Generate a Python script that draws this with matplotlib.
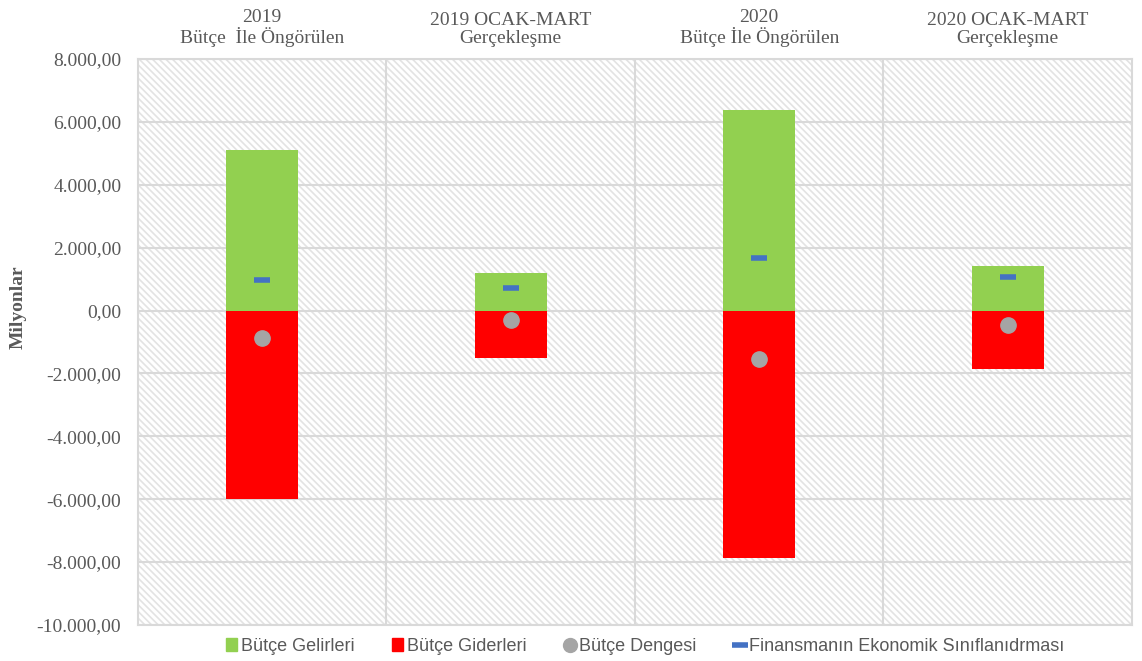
import matplotlib
matplotlib.use("Agg")
import matplotlib.pyplot as plt
from matplotlib.patches import Rectangle
from matplotlib.ticker import FuncFormatter, MultipleLocator
from matplotlib.lines import Line2D
from matplotlib.patches import Patch

# data (Milyonlar)
categories = ["2019\nBütçe  İle Öngörülen", "2019 OCAK-MART\nGerçekleşme",
              "2020\nBütçe İle Öngörülen", "2020 OCAK-MART\nGerçekleşme"]
gelirler = [5100, 1180, 6380, 1420]
giderler = [-6000, -1500, -7880, -1860]
denge = [-880, -310, -1530, -460]
finansman = [960, 720, 1660, 1080]

grid_c = "#d9d9d9"
txt_c = "#595959"
serif = ["Liberation Serif", "DejaVu Serif"]

plt.rcParams["hatch.linewidth"] = 1.2
fig = plt.figure(figsize=(11.42, 6.61), dpi=100)
ax = fig.add_axes([0.1208, 0.0545, 0.8704, 0.8562])

# hatched background
ax.add_patch(Rectangle((0, 0), 1, 1, transform=ax.transAxes, facecolor="white",
                       edgecolor="#e3e3e3", hatch="\\\\\\\\\\", linewidth=0, zorder=0))

x = list(range(len(categories)))
ax.bar(x, gelirler, width=0.29, color="#92D050", zorder=3)
ax.bar(x, giderler, width=0.29, color="#FF0000", zorder=3)
ax.plot(x, denge, linestyle="none", marker="o", ms=11, color="#A5A5A5", zorder=4)
ax.plot(x, finansman, linestyle="none", marker="_", ms=12, mew=4, color="#4472C4", zorder=4)

ax.set_xlim(-0.5, 3.5)
ax.set_ylim(-10000, 8000)
ax.yaxis.set_major_locator(MultipleLocator(2000))

def tr_fmt(v, pos):
    s = f"{abs(v):,.2f}".replace(",", "X").replace(".", ",").replace("X", ".")
    return ("-" if v < 0 else "") + s

ax.yaxis.set_major_formatter(FuncFormatter(tr_fmt))
ax.yaxis.grid(True, color=grid_c, linewidth=1.5, zorder=1)
for xv in [0.5, 1.5, 2.5]:
    ax.axvline(xv, color=grid_c, linewidth=1.5, zorder=1)
ax.set_axisbelow(True)

for sp in ax.spines.values():
    sp.set_color(grid_c)
    sp.set_linewidth(1.5)

ax.xaxis.tick_top()
ax.set_xticks(x)
ax.set_xticklabels(categories, fontfamily=serif, fontsize=14, color=txt_c,
                   linespacing=1.05)
ax.tick_params(axis="x", length=0, pad=9)
ax.tick_params(axis="y", length=0, pad=12, labelsize=14, labelcolor=txt_c)
for lab in ax.get_yticklabels():
    lab.set_fontfamily(serif)

fig.text(0.016, 0.535, "Milyonlar", rotation=90, ha="center", va="center",
         fontfamily=serif, fontsize=14, fontweight="bold", color=txt_c)

handles = [
    Patch(color="#92D050", label="Bütçe Gelirleri"),
    Patch(color="#FF0000", label="Bütçe Giderleri"),
    Line2D([], [], linestyle="none", marker="o", ms=10, color="#A5A5A5", label="Bütçe Dengesi"),
    Line2D([], [], linestyle="none", marker="_", ms=11, mew=4, color="#4472C4",
           label="Finansmanın Ekonomik Sınıflanıdrması"),
]
fig.legend(handles=handles, loc="center", bbox_to_anchor=(0.565, 0.022), ncol=4,
           frameon=False, handlelength=0.6, handleheight=0.7, handletextpad=0.2,
           columnspacing=2.1,
           prop={"family": ["Liberation Sans", "DejaVu Sans"], "size": 13},
           labelcolor=txt_c)

fig.savefig("out.png", dpi=100)
